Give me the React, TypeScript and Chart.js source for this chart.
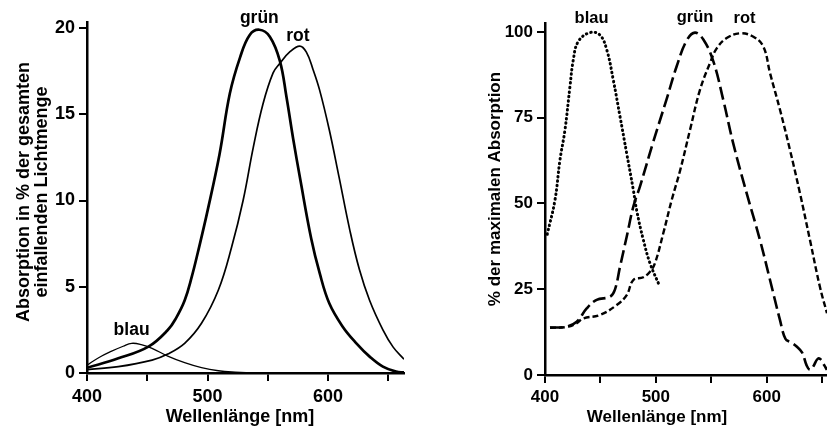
import React, { useEffect, useRef } from 'react';
import { Chart, registerables } from 'chart.js';

Chart.register(...registerables);

const FONT = '"Liberation Sans", Arial, Helvetica, sans-serif';

// ---------- Left panel: absorption in % of total incident light ----------
const leftBlauNm = [400, 410, 420, 430, 437, 445, 454, 467, 481, 495, 509, 523, 540, 560];
const leftBlauVal = [0.45, 0.9, 1.25, 1.55, 1.72, 1.65, 1.43, 0.98, 0.6, 0.31, 0.13, 0.05, 0.0, 0.0];

const leftGruenNm = [400, 426, 451, 467, 474, 481, 487, 492, 500, 510, 518.5, 527, 535, 543, 551.7, 560, 565.5, 571, 577, 586, 593, 601, 612, 623.5, 634.5, 645.5, 656.5, 663];
const leftGruenVal = [0.3, 0.85, 1.53, 2.49, 3.2, 4.2, 5.6, 7.0, 9.4, 12.7, 16.2, 18.3, 19.6, 19.9, 19.5, 18.1, 16.0, 13.6, 11.2, 7.8, 5.8, 4.04, 2.7, 1.72, 0.95, 0.37, 0.08, 0.03];

const leftRotNm = [400, 426, 454, 467, 481, 495, 509, 520, 529.5, 538, 546, 554.4, 560, 568, 576.5, 582, 587.5, 593, 601, 609, 618, 626, 634.5, 645.5, 654, 663];
const leftRotVal = [0.2, 0.37, 0.75, 1.1, 1.72, 2.88, 4.81, 7.3, 10.0, 13.1, 15.6, 17.4, 17.95, 18.6, 18.95, 18.6, 17.6, 16.4, 14.1, 11.4, 8.3, 6.0, 4.2, 2.5, 1.5, 0.8];

const leftLabelText = ['blau', 'grün', 'rot'];
const leftLabelNm = [437, 543, 575];
const leftLabelVal = [2.49, 20.58, 19.54];

const leftYTitle = ['Absorption in % der gesamten', 'einfallenden Lichtmenge'];
const leftXTitle = 'Wellenlänge [nm]';

// ---------- Right panel: % of maximal absorption ----------
const rightBlauNm = [402, 409, 413.5, 418, 422.5, 425.5, 430, 440.5, 449.5, 455.7, 461.6, 467.7, 473.7, 479.7, 482.7, 488.7, 494.7, 503.7];
const rightBlauVal = [41, 51, 62.7, 71.4, 84, 91.8, 97.2, 99.8, 99.1, 94.8, 86, 75.3, 64.6, 53.9, 48, 39.4, 32.6, 25.7];

const rightGruenNm = [404.5, 419.5, 428.6, 437.6, 446.6, 458.6, 463, 467.7, 473.7, 479.7, 485.7, 497.7, 509.8, 518.8, 527.8, 535.3, 543, 551.8, 560.8, 569.8, 581.9, 593.9, 603, 612, 617, 622, 627, 632, 636, 639, 642, 646, 649, 652, 654.4];
const rightGruenVal = [13.8, 14.1, 15.5, 19.4, 21.9, 22.8, 24.8, 31.6, 40.3, 49.1, 55, 68, 80.5, 90, 97.5, 99.8, 97.7, 91.5, 80.2, 67.5, 53, 39.4, 27.7, 16, 10.5, 9.5, 8.3, 6.5, 2.8, 1.5, 2.5, 4.7, 4.5, 2.8, 1.5];

const rightRotNm = [404.5, 419.5, 428, 434.6, 449.6, 464.7, 473.7, 479.7, 488.7, 494.7, 499.2, 506.7, 514.3, 521.8, 530.8, 539.8, 548.8, 554.9, 563.9, 575.9, 588, 597, 603, 612, 621, 630, 639, 648, 654.4];
const rightRotVal = [13.8, 14.0, 15.0, 16.5, 17.5, 20.4, 23.3, 27.7, 28.5, 30.1, 32.6, 41.3, 51, 59.5, 71.4, 83.1, 90.9, 95.2, 98.2, 99.6, 98.6, 95.7, 88, 77.3, 65.6, 53, 39.4, 25.7, 18];

const rightLabelText = ['blau', 'grün', 'rot'];
const rightLabelNm = [442, 535.3, 580];
const rightLabelVal = [104, 104.3, 104];

const rightYTitle = ['% der maximalen Absorption'];
const rightXTitle = 'Wellenlänge [nm]';

const xTickLabels = [400, 500, 600];

const toPoints = (xs: number[], ys: number[]) => xs.map((x, i) => ({ x, y: ys[i] }));

const textPlugin = {
  id: 'panelTexts',
  afterDraw(chart: any, _args: any, opts: any) {
    const ctx = chart.ctx;
    const xs = chart.scales.x;
    const ys = chart.scales.y;
    const ca = chart.chartArea;
    ctx.save();
    ctx.fillStyle = '#000';
    ctx.textAlign = 'center';
    ctx.textBaseline = 'middle';
    ctx.font = `bold ${opts.labelSize}px ${FONT}`;
    opts.labels.forEach((l: any) => {
      ctx.fillText(l.text, xs.getPixelForValue(l.nm), ys.getPixelForValue(l.val));
    });
    ctx.font = `bold ${opts.titleSize}px ${FONT}`;
    ctx.fillText(opts.xTitle, ca.left + opts.xTitleDx, ca.bottom + opts.xTitleDy);
    opts.yTitle.forEach((line: string, i: number) => {
      ctx.save();
      ctx.translate(opts.yTitleX + i * opts.yLineGap, ca.top + opts.yTitleDy);
      ctx.rotate(-Math.PI / 2);
      ctx.fillText(line, 0, 0);
      ctx.restore();
    });
    ctx.restore();
  },
};

function makeConfig(p: any) {
  const lineBase = { pointRadius: 0, borderColor: '#000', fill: false, tension: 0.4 };
  return {
    type: 'line' as const,
    data: { datasets: p.datasets.map((d: any) => ({ ...lineBase, ...d })) },
    options: {
      responsive: false,
      animation: false as const,
      devicePixelRatio: 1,
      layout: { padding: p.padding },
      plugins: {
        legend: { display: false },
        tooltip: { enabled: false },
        panelTexts: p.texts,
      },
      scales: {
        x: {
          type: 'linear' as const,
          min: 400,
          max: p.xMax,
          ticks: {
            stepSize: 50,
            includeBounds: false,
            autoSkip: false,
            maxRotation: 0,
            color: '#000',
            padding: p.xTickPad,
            font: { family: FONT, size: p.tickSize, weight: 'bold' as const },
            callback: (v: number) => (xTickLabels.includes(v) ? String(v) : ''),
          },
          grid: { drawOnChartArea: false, drawTicks: true, tickLength: 8, color: '#000', lineWidth: 2 },
          border: { display: true, color: '#000', width: 2.5 },
          afterFit: (s: any) => {
            s.height = p.xAxisH;
            s.paddingLeft = 0;
            s.paddingRight = 0;
          },
        },
        y: {
          type: 'linear' as const,
          min: 0,
          max: p.yMax,
          ticks: {
            stepSize: p.yStep,
            includeBounds: false,
            color: '#000',
            padding: 4,
            font: { family: FONT, size: p.tickSize, weight: 'bold' as const },
          },
          grid: { drawOnChartArea: false, drawTicks: true, tickLength: 8, color: '#000', lineWidth: 2 },
          border: { display: true, color: '#000', width: 2.5 },
          afterFit: (s: any) => {
            s.width = p.yAxisW;
            s.paddingTop = 0;
            s.paddingBottom = 0;
          },
        },
      },
    },
    plugins: [textPlugin],
  };
}

function Panel({ left, width, cfg }: { left: number; width: number; cfg: any }) {
  const ref = useRef<HTMLCanvasElement | null>(null);
  useEffect(() => {
    if (!ref.current) return;
    const chart = new Chart(ref.current, makeConfig(cfg) as any);
    return () => chart.destroy();
  }, []);
  return (
    <canvas
      ref={ref}
      width={width}
      height={432}
      style={{ position: 'absolute', left, top: 0, width, height: 432 }}
    />
  );
}

const leftCfg = {
  xMax: 663,
  yMax: 20.35,
  yStep: 5,
  tickSize: 18,
  xTickPad: 5,
  xAxisH: 59,
  yAxisW: 87,
  padding: { top: 22, right: 11, left: 0, bottom: 0 },
  datasets: [
    { data: toPoints(leftBlauNm, leftBlauVal), borderWidth: 1.3 },
    { data: toPoints(leftRotNm, leftRotVal), borderWidth: 1.7 },
    { data: toPoints(leftGruenNm, leftGruenVal), borderWidth: 2.7 },
  ],
  texts: {
    labelSize: 17.5,
    titleSize: 18,
    labels: leftLabelText.map((t, i) => ({ text: t, nm: leftLabelNm[i], val: leftLabelVal[i] })),
    xTitle: leftXTitle,
    xTitleDx: 153,
    xTitleDy: 44,
    yTitle: leftYTitle,
    yTitleX: 24,
    yLineGap: 18,
    yTitleDy: 170,
  },
};

const rightCfg = {
  xMax: 654.4,
  yMax: 102.6,
  yStep: 25,
  tickSize: 17,
  xTickPad: 4,
  xAxisH: 57,
  yAxisW: 130,
  padding: { top: 23, right: 0, left: 0, bottom: 0 },
  datasets: [
    { data: toPoints(rightBlauNm, rightBlauVal), borderWidth: 3, borderDash: [0.5, 4], borderCapStyle: 'round' },
    { data: toPoints(rightGruenNm, rightGruenVal), borderWidth: 2.6, borderDash: [13, 5] },
    { data: toPoints(rightRotNm, rightRotVal), borderWidth: 2.4, borderDash: [6, 3] },
  ],
  texts: {
    labelSize: 16.5,
    titleSize: 17,
    labels: rightLabelText.map((t, i) => ({ text: t, nm: rightLabelNm[i], val: rightLabelVal[i] })),
    xTitle: rightXTitle,
    xTitleDx: 112,
    xTitleDy: 42,
    yTitle: rightYTitle,
    yTitleX: 80,
    yLineGap: 18,
    yTitleDy: 166,
  },
};

export default function App() {
  return (
    <div style={{ position: 'fixed', left: 0, top: 0, width: 827, height: 432, background: '#fff', overflow: 'hidden' }}>
      <Panel left={0} width={415} cfg={leftCfg} />
      <Panel left={415} width={412} cfg={rightCfg} />
    </div>
  );
}
